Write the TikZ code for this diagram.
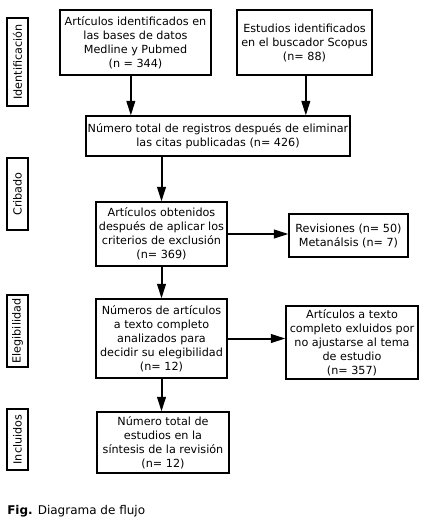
\documentclass[tikz,border=0pt]{standalone}
\usepackage{fontspec}
\setmainfont{DejaVu Sans}
\usepackage{tikz}
\usetikzlibrary{positioning, arrows.meta, calc}

\begin{document}
\begin{tikzpicture}[
			x=0.75pt, y=-0.75pt,
			box/.style={rectangle, draw, line width=0.8pt, text centered, align=center, inner sep=1pt, font=\fontsize{8.4}{10.5}\selectfont},
			phase/.style={rectangle, draw, line width=0.8pt, rotate=90, minimum height=21*0.75pt, inner sep=1pt, font=\fontsize{8.4}{10.5}\selectfont},
			arrow/.style={line width=1.5pt, -{Triangle[length=11pt, width=6.5pt]}}
			]
			\useasboundingbox (0,0) rectangle (423,526);
			
			% Phases
			\node[phase, minimum width=88*0.75pt] (ident) at (17.5,62) {Identificación};
			\node[phase, minimum width=72*0.75pt] (crib) at (17.5,194) {Cribado};
			\node[phase, minimum width=72*0.75pt] (eleg) at (17.5,331) {Elegibilidad};
			\node[phase, minimum width=61*0.75pt] (incl) at (17.5,439.5) {Incluidos};
			
			% Boxes
			\node[box, minimum width=151*0.75pt, minimum height=65*0.75pt] (medline) at (135.5,42.5) {Artículos identificados en\\las bases de datos\\Medline y Pubmed\\(n = 344)};
			\node[box, minimum width=135*0.75pt, minimum height=65*0.75pt] (scopus) at (304.5,42.5) {Estudios identificados\\en el buscador Scopus\\(n= 88)};
			
			\node[box, minimum width=264*0.75pt, minimum height=40*0.75pt] (total) at (218,136) {Número total de registros después de eliminar\\las citas publicadas (n= 426)};
			
			\node[box, minimum width=131*0.75pt, minimum height=64*0.75pt] (obtenidos) at (161.5,234) {Artículos obtenidos\\después de aplicar los\\criterios de exclusión\\(n= 369)};
			\node[box, minimum width=119*0.75pt, minimum height=43*0.75pt] (revisiones) at (348.5,235.5) {Revisiones (n= 50)\\Metanálsis (n= 7)};
			
			\node[box, minimum width=131*0.75pt, minimum height=79*0.75pt] (texto) at (161.5,338.5) {Números de artículos\\a texto completo\\analizados para\\decidir su elegibilidad\\(n= 12)};
			\node[box, minimum width=132*0.75pt, minimum height=73*0.75pt] (excluidos) at (352,342.5) {Artículos a texto\\completo exluidos por\\no ajustarse al tema\\de estudio\\(n= 357)};
			
			\node[box, minimum width=132*0.75pt, minimum height=61*0.75pt] (sintesis) at (163,442.5) {Número total de\\estudios en la\\síntesis de la revisión\\(n= 12)};
			
			\node[anchor=west, inner sep=0pt, font=\fontsize{9}{11}\selectfont] (caption) at (7,511) {\textbf{Fig.} Diagrama de flujo};
			
			% Arrows
			\draw[arrow] ([xshift=-3.5pt]medline.south) -- ([xshift=-3.5pt]medline.south |- total.north);
			\draw[arrow] ([xshift=1pt]scopus.south) -- ([xshift=1pt]scopus.south |- total.north);
			\draw[arrow] (obtenidos.north |- total.south) -- (obtenidos.north);
			\draw[arrow] (obtenidos.east) -- (revisiones.west |- obtenidos.east);
			\draw[arrow] (obtenidos) -- (texto);
			\draw[arrow] (texto.east) -- (excluidos.west |- texto.east);
			\draw[arrow] (texto.south) -- (texto.south |- sintesis.north);
			
		\end{tikzpicture}
\end{document}
